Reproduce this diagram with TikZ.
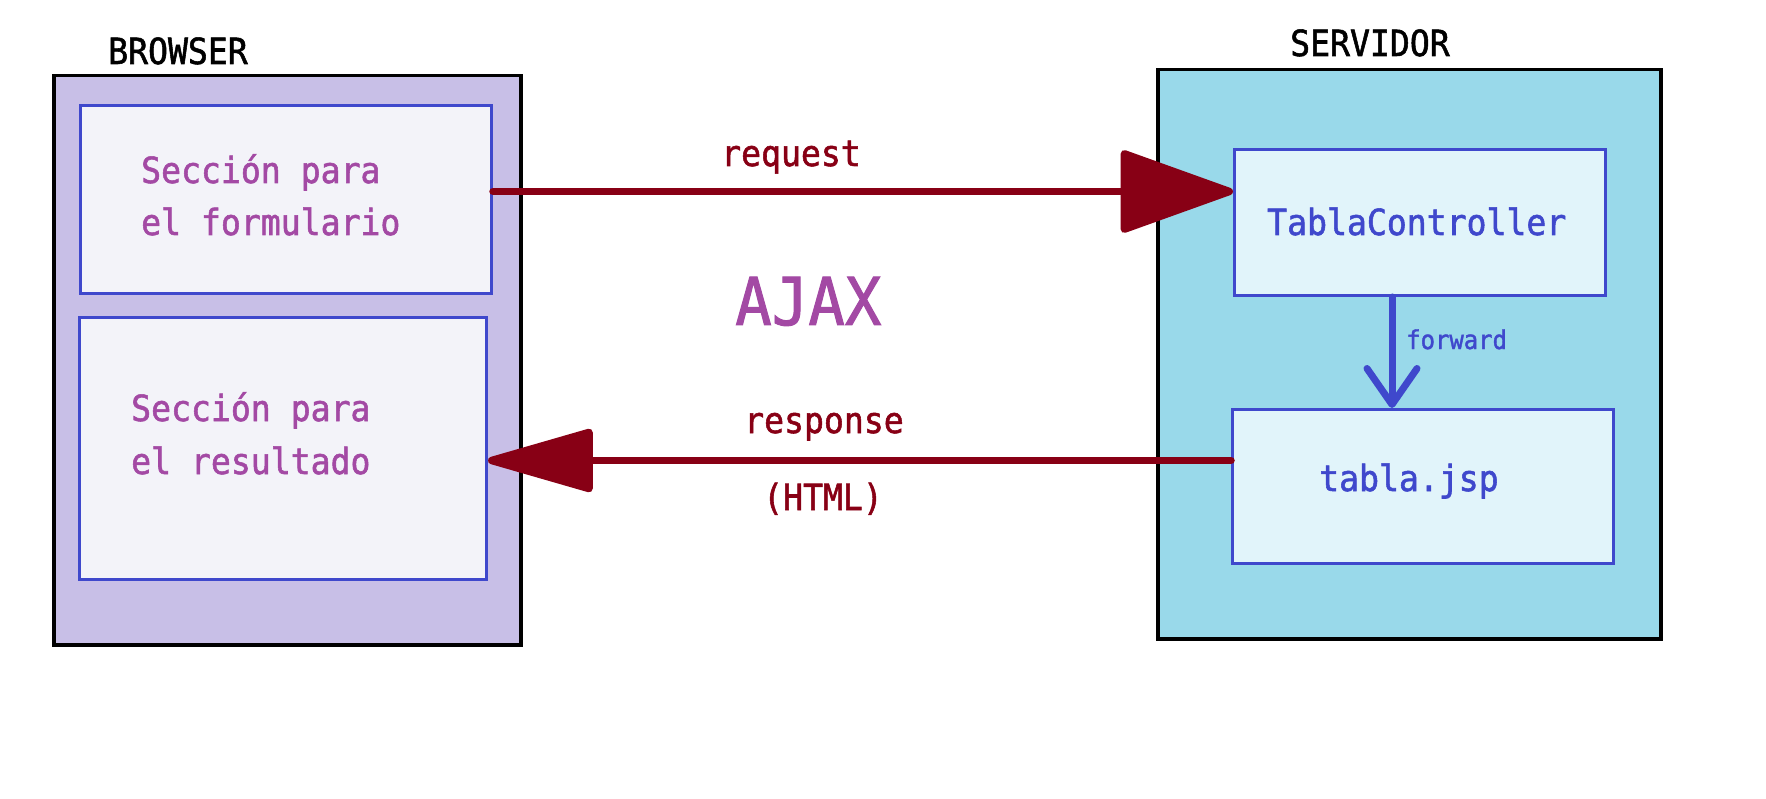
\documentclass[tikz,border=0pt]{standalone}
\usepackage{fontspec}
\newfontfamily\dmono{DejaVu Sans Mono}[FakeStretch=0.92,FakeBold=1.5]
\usetikzlibrary{arrows.meta}
\definecolor{purpT}{HTML}{A349A4}
\definecolor{redD}{HTML}{880015}
\definecolor{blueC}{HTML}{3F48CC}
\definecolor{lavB}{HTML}{C8BFE7}
\definecolor{turqS}{HTML}{99D9EA}
\definecolor{inB}{HTML}{F3F3F9}
\definecolor{inS}{HTML}{E1F4FA}
\begin{document}
\begin{tikzpicture}[x=1pt,y=-1pt,
  outerbox/.style={draw=black, line width=3.5pt, anchor=north west, inner sep=0pt},
  innerbox/.style={draw=blueC, line width=3pt, anchor=north west, inner sep=0pt},
  txt/.style={anchor=base west, inner sep=0pt, font=\dmono\fontsize{36}{44}\selectfont},
  reqarrow/.style={draw=redD, line width=7.5pt, line cap=round, -{Triangle[length=120pt,width=84pt,round]}},
  resparrow/.style={draw=redD, line width=7.5pt, line cap=round, -{Triangle[length=115pt,width=64pt,round]}},
  fwdarrow/.style={draw=blueC, line width=7pt, line cap=round, -{Straight Barb[length=36pt,width=50pt,round]}}
]
\fill[white] (0,0) rectangle (1766,799);
\useasboundingbox (0,0) rectangle (1766,799);

% containers
\node[outerbox, fill=lavB, minimum width=467pt, minimum height=569pt] (browser) at (52,74) {};
\node[outerbox, fill=turqS, minimum width=503pt, minimum height=569pt] (server) at (1156,68) {};

% inner boxes
\node[innerbox, fill=inB, minimum width=411pt, minimum height=188pt] (form) at (79,104) {};
\node[innerbox, fill=inB, minimum width=407pt, minimum height=262pt] (res) at (78,316) {};
\node[innerbox, fill=inS, minimum width=371pt, minimum height=146pt] (tc) at (1233,148) {};
\node[innerbox, fill=inS, minimum width=381pt, minimum height=154pt] (tj) at (1231,408) {};

% titles
\node[txt, text=black] (tb) at (108,64) {BROWSER};
\node[txt, text=black] (ts) at (1290,56) {SERVIDOR};

% texts in boxes
\node[txt, text=purpT] (f1) at (141,183) {Sección para};
\node[txt, text=purpT] (f2) at (141,235) {el formulario};
\node[txt, text=purpT] (r1) at (131,421) {Sección para};
\node[txt, text=purpT] (r2) at (131,474) {el resultado};
\node[txt, text=blueC] (tct) at (1267,235) {TablaController};
\node[txt, text=blueC] (tjt) at (1319,491) {tabla.jsp};

% middle labels
\node[txt, text=redD] (lreq) at (721,166) {request};
\node[txt, text=purpT, font=\dmono\fontsize{66}{70}\selectfont] (ajax) at (735,325) {AJAX};
\node[txt, text=redD] (lresp) at (744,433) {response};
\node[txt, text=redD] (lhtml) at (763,510) {(HTML)};
\node[txt, text=blueC, font=\dmono\fontsize{26}{30}\selectfont] (lfwd) at (1406,349) {forward};

% connectors
\draw[reqarrow] ([yshift=8pt]form.east) -- ([yshift=8pt]form.east -| tc.west);
\draw[resparrow] ([yshift=26pt]tj.west) -- ([yshift=26pt]tj.west -| res.east);
\draw[fwdarrow] ([xshift=-28pt]tc.south) -- ([xshift=-28pt]tc.south |- tj.north);
\end{tikzpicture}
\end{document}
